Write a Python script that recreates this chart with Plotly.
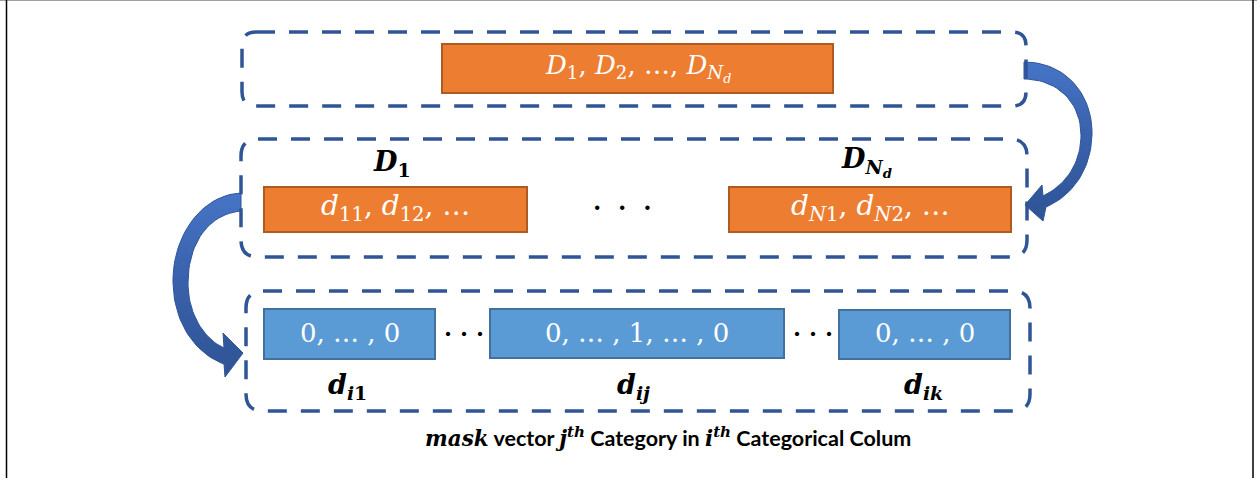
import plotly.graph_objects as go

W, H = 1257, 478

# ---- text content ----
top_label = "<i>D</i><sub>1</sub>, <i>D</i><sub>2</sub>, …, <i>D</i><sub><i>N</i><sub><i>d</i></sub></sub>"
group_titles = ["<b><i>D</i><sub>1</sub></b>", "<b><i>D</i><sub><i>N</i><sub><i>d</i></sub></sub></b>"]
group_values = ["<i>d</i><sub>11</sub>, <i>d</i><sub>12</sub>, …", "<i>d</i><sub><i>N</i>1</sub>, <i>d</i><sub><i>N</i>2</sub>, …"]
mask_values = ["0, … , 0", "0, … , 1, … , 0", "0, … , 0"]
mask_titles = ["<b><i>d</i><sub><i>i</i>1</sub></b>", "<b><i>d</i><sub><i>ij</i></sub></b>", "<b><i>d</i><sub><i>ik</i></sub></b>"]
caption_math = ["mask", "j", "th", "i", "th"]
caption_words = [" vector ", " Category in ", " Categorical Colum"]

# ---- geometry (pixel space) ----
dash_boxes = [(242, 32, 1026, 106, 14), (241, 139, 1027, 257, 17), (246, 291, 1030, 411, 17)]
top_box = (442, 44, 833, 93)
group_boxes = [(264, 187, 527, 232), (729, 187, 1011, 232)]
mask_boxes = [(264, 309, 435, 359), (490, 309, 784, 358), (839, 310, 1010, 359)]

ORANGE, ORANGE_EDGE = "#ED7D31", "#AE5A21"
BLUE, BLUE_EDGE = "#5B9BD5", "#41719C"
DASH_COL = "#2F5597"
MATH = "DejaVu Serif"
SANS = "Lato"


def rrect(x0, y0, x1, y1, r):
    return (f"M{x0 + r},{y0} L{x1 - r},{y0} Q{x1},{y0} {x1},{y0 + r} "
            f"L{x1},{y1 - r} Q{x1},{y1} {x1 - r},{y1} L{x0 + r},{y1} "
            f"Q{x0},{y1} {x0},{y1 - r} L{x0},{y0 + r} Q{x0},{y0} {x0 + r},{y0} Z")


shapes = []
for (x0, y0, x1, y1, r) in dash_boxes:
    shapes.append(dict(type="path", path=rrect(x0, y0, x1, y1, r),
                       line=dict(color=DASH_COL, width=3.5, dash="19px,14px")))

def rect(b, fill, edge):
    return dict(type="rect", x0=b[0], y0=b[1], x1=b[2], y1=b[3],
                fillcolor=fill, line=dict(color=edge, width=2))

shapes.append(rect(top_box, ORANGE, ORANGE_EDGE))
for b in group_boxes:
    shapes.append(rect(b, ORANGE, ORANGE_EDGE))
for b in mask_boxes:
    shapes.append(rect(b, BLUE, BLUE_EDGE))

# ---- curved block arrows (outline as line/cubic segments) ----
def bez(p0, p1, p2, p3, n=24):
    pts = []
    for k in range(1, n + 1):
        t = k / n
        a = (1 - t) ** 3; b = 3 * (1 - t) ** 2 * t; c = 3 * (1 - t) * t ** 2; d = t ** 3
        pts.append((a * p0[0] + b * p1[0] + c * p2[0] + d * p3[0],
                    a * p0[1] + b * p1[1] + c * p2[1] + d * p3[1]))
    return pts

def outline(start, segs):
    pts = [start]
    for s in segs:
        if len(s) == 1:
            pts.append(s[0])
        else:
            pts.extend(bez(pts[-1], *s))
    pts.append(start)
    return [p[0] for p in pts], [p[1] for p in pts]

right_arrow = outline((1024, 62), [
    [(1066, 62), (1093, 95), (1092, 135)],
    [(1091, 170), (1072, 196), (1046, 207)],
    [(1043, 221)], [(1025, 205)], [(1042, 185)], [(1043, 196)],
    [(1066, 185), (1081, 163), (1081, 135)],
    [(1081, 102), (1057, 79), (1024, 79)],
])
left_arrow = outline((241, 193), [
    [(200, 195), (172, 238), (173, 283)],
    [(174, 324), (196, 354), (224, 364)],
    [(225, 377)], [(243, 353)], [(223, 333)], [(224, 348)],
    [(204, 339), (188, 314), (188, 283)],
    [(188, 244), (208, 214), (241, 211)],
])

fig = go.Figure()
for xs, ys in (right_arrow, left_arrow):
    fig.add_trace(go.Scatter(
        x=xs, y=ys, mode="lines", fill="toself", hoverinfo="skip",
        line=dict(color="#2F5597", width=1),
        fillgradient=dict(type="vertical",
                          colorscale=[[0, "#2E5495"], [0.55, "#3A62AC"], [1, "#4674C6"]]),
    ))

# outer frame
shapes.append(dict(type="line", xref="paper", yref="paper", x0=0, x1=1, y0=1, y1=1,
                   line=dict(color="#A0A0A0", width=2)))
shapes.append(dict(type="line", x0=6.5, x1=6.5, y0=0, y1=H, line=dict(color="black", width=1.5)))
shapes.append(dict(type="line", x0=1253, x1=1253, y0=0, y1=H, line=dict(color="black", width=1.5)))

annotations = []

def ann(x, y, text, size, color="black", family=MATH):
    annotations.append(dict(x=x, y=y, text=text, showarrow=False, xanchor="center",
                            yanchor="middle", font=dict(family=family, size=size, color=color)))

ann((top_box[0] + top_box[2]) / 2, 68, top_label, 26, "white")
title_pos = [(392, 163), (866, 162)]
for (x, y), t in zip(title_pos, group_titles):
    ann(x, y, t, 27)
for b, t in zip(group_boxes, group_values):
    ann((b[0] + b[2]) / 2, 207, t, 28, "white")
ann(622, 207, "<b>·  ·  ·</b>", 24)
for b, t in zip(mask_boxes, mask_values):
    ann((b[0] + b[2]) / 2, 333, t, 26, "white")
for x in (464, 813):
    ann(x, 333, "<b>· · ·</b>", 23)
title_x = [347, 633, 923]
for x, t in zip(title_x, mask_titles):
    ann(x, 386, t, 27)

def m(s):
    return f"<span style='font-family:{MATH}'><i>{s}</i></span>"

caption = ("<b>" + m(caption_math[0]) + caption_words[0]
           + m(caption_math[1]) + "<sup>" + m(caption_math[2]) + "</sup>" + caption_words[1]
           + m(caption_math[3]) + "<sup>" + m(caption_math[4]) + "</sup>" + caption_words[2] + "</b>")
ann(668, 437, caption, 21.5, family=SANS)

fig.update_layout(
    width=W, height=H, margin=dict(l=0, r=0, t=0, b=0),
    paper_bgcolor="white", plot_bgcolor="white",
    xaxis=dict(range=[0, W], visible=False, fixedrange=True),
    yaxis=dict(range=[H, 0], visible=False, fixedrange=True),
    shapes=shapes, annotations=annotations, showlegend=False,
)
fig.write_html("out.html", config={"displayModeBar": False},
               post_script="document.body.style.margin='0';")
